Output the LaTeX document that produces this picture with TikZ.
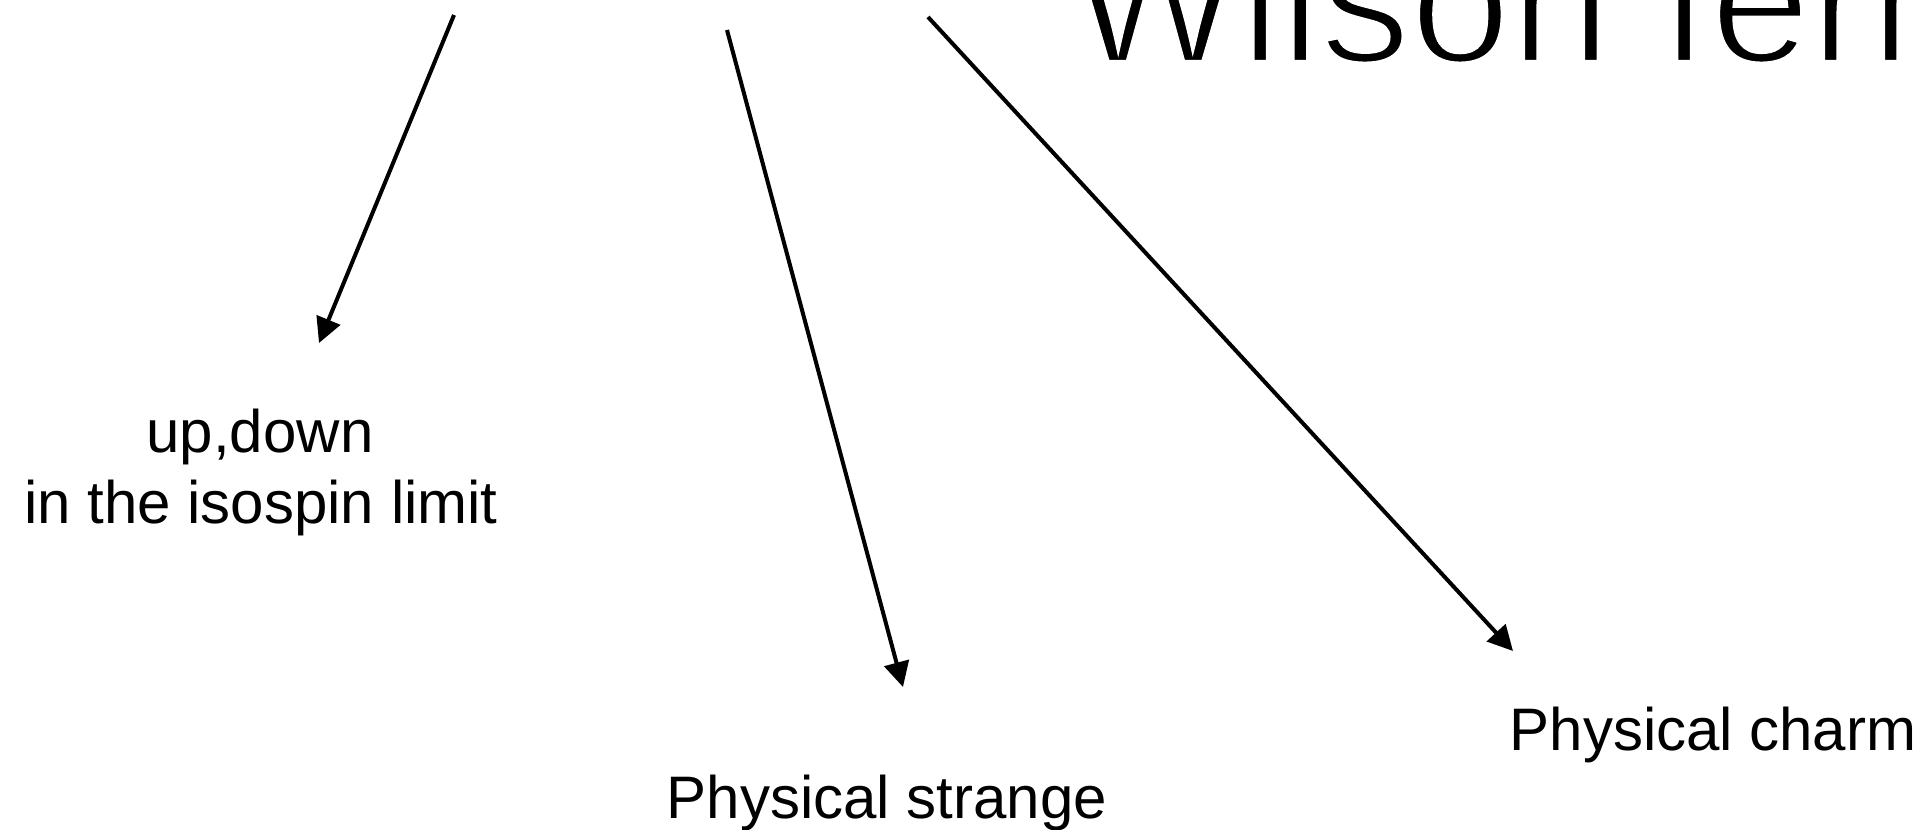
\documentclass[tikz,border=0pt]{standalone}
\usepackage{fontspec}
\setmainfont{Liberation Sans}
\usetikzlibrary{arrows.meta}
\begin{document}
\begin{tikzpicture}[x=0.5pt,y=-0.5pt,
  lbl/.style={font=\fontsize{30}{36}\selectfont, inner sep=0pt, anchor=base},
  ttl/.style={font=\fontsize{90}{100}\selectfont, inner sep=0pt, anchor=base west},
  arr/.style={line width=2pt, -{Triangle[length=12.5pt,width=12.5pt]}}]
\useasboundingbox (0,0) rectangle (1929,830);
\begin{scope}
\clip (0,0) rectangle (1929,830);
\node[ttl] (title) at (1070,62) {\special{pdf:literal direct 2 Tr 1 1 1 RG 2.2 w}Wilson fermions\special{pdf:literal direct 0 Tr 0 0 0 RG}};
\end{scope}
\coordinate (s1) at (454,15);  \coordinate (e1) at (319,343);
\coordinate (s2) at (727,30);  \coordinate (e2) at (903,687);
\coordinate (s3) at (928,17);  \coordinate (e3) at (1513,651);
\node[lbl] (ud1) at (260,452) {up,down};
\node[lbl] (ud2) at (261,523) {in the isospin limit};
\node[lbl] (str) at (887,818) {Physical strange};
\node[lbl] (chm) at (1713,750) {Physical charm};
\draw[arr] (s1) -- (e1);
\draw[arr] (s2) -- (e2);
\draw[arr] (s3) -- (e3);
\end{tikzpicture}
\end{document}
